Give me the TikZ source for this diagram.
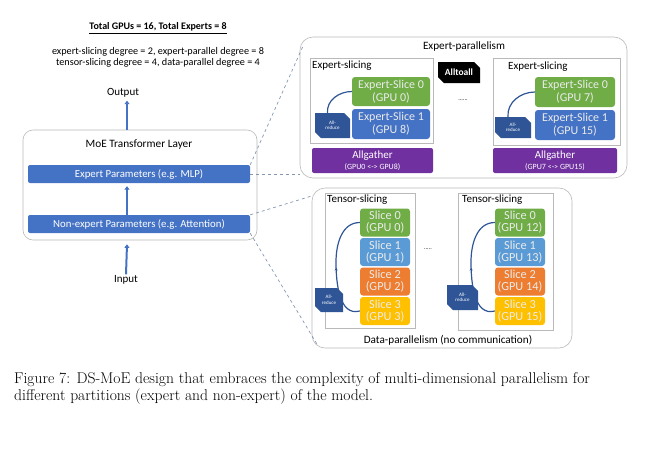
\documentclass[tikz,border=0pt]{standalone}
\usepackage{fontspec}
\newfontfamily\cf{Carlito}
\usetikzlibrary{shapes.misc,arrows.meta,calc,decorations.markings}
\definecolor{barblue}{HTML}{4472C4}
\definecolor{esgreen}{HTML}{70AD47}
\definecolor{sblue}{HTML}{5B9BD5}
\definecolor{sorange}{HTML}{ED7D31}
\definecolor{syellow}{HTML}{FFC000}
\definecolor{agpurple}{HTML}{7030A0}
\definecolor{arblue}{HTML}{2F5597}
\definecolor{dashc}{HTML}{8497B0}
\begin{document}
\begin{tikzpicture}[x=1pt,y=-1pt,
  txt/.style={font=\cf\fontsize{11}{12}\selectfont, inner sep=0pt},
  outer/.style={draw=gray!55, line width=0.6pt, rounded corners=13pt, inner sep=0pt},
  frame/.style={draw=gray!55, line width=0.5pt, inner sep=0pt},
  bar/.style={fill=barblue, rounded corners=2pt, text=white, inner sep=0pt,
    font=\cf\fontsize{10.8}{12}\selectfont, minimum width=222pt, minimum height=18pt},
  esbox/.style={rounded corners=3pt, text=white!92!black, inner sep=0pt, align=center,
    font=\cf\fontsize{12}{13}\selectfont},
  slicebox/.style={esbox, font=\cf\fontsize{12.3}{12}\selectfont, minimum width=50pt, minimum height=28pt},
  arbox/.style={chamfered rectangle, chamfered rectangle corners={north east,south west},
    chamfered rectangle xsep=3pt, fill=arblue, text=white, inner sep=0pt, align=center,
    font=\cf\fontsize{5}{5.5}\selectfont},
  agbox/.style={fill=agpurple, rounded corners=2pt, text=white, inner sep=0pt, align=center,
    minimum width=122pt, minimum height=25pt},
  uparrow/.style={draw=barblue, line width=2pt, -{Triangle[width=5pt,length=3.5pt]}},
  dashline/.style={draw=dashc, dashed, line width=0.7pt},
  curve/.style={draw=arblue, line width=1.2pt},
  midarrow/.style={postaction={decorate}, decoration={markings,
    mark=at position 0.5 with {\arrow{Stealth[length=3pt,width=3pt]}}}}
]
\useasboundingbox (0,0) rectangle (655,451);

% left texts
\node[txt, font=\cf\bfseries\fontsize{10}{11}\selectfont] (title) at (158,28) {\underline{Total GPUs = 16, Total Experts = 8}};
\node[txt, font=\cf\fontsize{10.2}{11}\selectfont] (deg1) at (158,52) {expert-slicing degree = 2, expert-parallel degree = 8};
\node[txt, font=\cf\fontsize{10.2}{11}\selectfont] (deg2) at (158,63) {tensor-slicing degree = 4, data-parallel degree = 4};
\node[txt] (out) at (123,93) {Output};
\node[txt] (inp) at (126,280) {Input};

% MoE layer
\node[outer, rounded corners=10pt, minimum width=234pt, minimum height=110pt] (moe) at (140,185) {};
\node[txt, font=\cf\fontsize{11.3}{12}\selectfont] (moet) at (139,145) {MoE Transformer Layer};
\node[bar] (exp) at (139,174) {Expert Parameters (e.g. MLP)};
\node[bar] (nonexp) at (139,224) {Non-expert Parameters (e.g. Attention)};
\coordinate (ux) at (127,0);
\draw[uparrow] (ux |- moe.north) -- ([yshift=-3pt]ux |- out.south);
\draw[uparrow] (ux |- nonexp.north) -- ([yshift=-3pt]ux |- exp.south);
\draw[uparrow] ([yshift=1pt]inp.north) -- ([yshift=-4pt]ux |- moe.south);

% Expert parallelism
\node[outer, minimum width=327pt, minimum height=141pt] (ep) at (463.5,107.5) {};
\node[txt, font=\cf\fontsize{11.2}{12}\selectfont] (ept) at (464,47) {Expert-parallelism};
\node[frame, minimum width=123pt, minimum height=85pt] (esl) at (371.5,100.5) {};
\node[txt, anchor=west] (eslt) at (312,66) {Expert-slicing};
\node[esbox, fill=esgreen, minimum width=78pt, minimum height=29pt] (es0l) at (391,91.5) {Expert-Slice 0\\(GPU 0)};
\node[esbox, fill=barblue, minimum width=78pt, minimum height=30pt] (es1l) at (391,124) {Expert-Slice 1\\(GPU 8)};
\node[arbox, minimum width=35pt, minimum height=25pt] (arl) at (332.5,125.5) {All-\\reduce};
\draw[curve] ([xshift=-5pt]arl.north) to[out=95,in=180] (es0l.west);
\node[agbox, minimum width=121pt] (agl) at (372.5,160.5) {{\cf\fontsize{11}{11}\selectfont Allgather}\\[-1pt]{\cf\fontsize{8}{8}\selectfont (GPU0 <-> GPU8)}};

\node[chamfered rectangle, chamfered rectangle corners={north east,south west}, chamfered rectangle xsep=3pt,
  fill=black, text=white, inner sep=0pt, minimum width=42pt, minimum height=21pt,
  font=\cf\bfseries\fontsize{9.5}{10}\selectfont] (a2a) at (459,72.5) {Alltoall};
\node[txt, font=\cf\fontsize{6}{7}\selectfont] (dots1) at (463,100) {......};

\node[frame, minimum width=127pt, minimum height=87pt] (esr) at (556.5,101.5) {};
\node[txt, anchor=west] (esrt) at (508,67) {Expert-slicing};
\node[esbox, fill=esgreen, minimum width=80pt, minimum height=30pt] (es0r) at (575,92) {Expert-Slice 0\\(GPU 7)};
\node[esbox, fill=barblue, minimum width=80pt, minimum height=30pt] (es1r) at (575,125) {Expert-Slice 1\\(GPU 15)};
\node[arbox, minimum width=36pt, minimum height=21pt] (arr) at (513,127.5) {All-\\reduce};
\draw[curve] ([xshift=-5pt]arr.north) to[out=95,in=180] (es0r.west);
\node[agbox, minimum width=124pt] (agr) at (555,160.5) {{\cf\fontsize{11}{11}\selectfont Allgather}\\[-1pt]{\cf\fontsize{8}{8}\selectfont (GPU7 <-> GPU15)}};

% Data parallelism
\node[outer, minimum width=260pt, minimum height=160pt] (dp) at (442,268) {};
\node[txt, font=\cf\fontsize{11.2}{12}\selectfont] (dpt) at (448,340) {Data-parallelism (no communication)};

\node[frame, minimum width=90pt, minimum height=135pt] (tsl) at (370,260.5) {};
\node[txt, anchor=west] (tslt) at (327,200) {Tensor-slicing};
\node[slicebox, fill=esgreen] (s0l) at (385,222.5) {Slice 0\\(GPU 0)};
\node[slicebox, fill=sblue] (s1l) at (385,252) {Slice 1\\(GPU 1)};
\node[slicebox, fill=sorange] (s2l) at (385,281.5) {Slice 2\\(GPU 2)};
\node[slicebox, fill=syellow] (s3l) at (385,311) {Slice 3\\(GPU 3)};
\coordinate (ml) at (336,262);
\draw[curve, midarrow] (s3l.west) to[out=195,in=-90] (ml) to[out=90,in=180] (s0l.west);
\node[arbox, minimum width=28pt, minimum height=24pt] (arl2) at (329,300) {All-\\reduce};
\node[txt, font=\cf\fontsize{6}{7}\selectfont] (dots2) at (428,249) {.....};

\node[frame, minimum width=95pt, minimum height=137pt] (tsr) at (505.5,261.5) {};
\node[txt, anchor=west] (tsrt) at (462,200) {Tensor-slicing};
\node[slicebox, fill=esgreen] (s0r) at (520,222.5) {Slice 0\\(GPU 12)};
\node[slicebox, fill=sblue] (s1r) at (520,252) {Slice 1\\(GPU 13)};
\node[slicebox, fill=sorange] (s2r) at (520,281.5) {Slice 2\\(GPU 14)};
\node[slicebox, fill=syellow] (s3r) at (520,311) {Slice 3\\(GPU 15)};
\coordinate (mr) at (471,262);
\draw[curve, midarrow] (s3r.west) to[out=195,in=-90] (mr) to[out=90,in=180] (s0r.west);
\node[arbox, minimum width=31pt, minimum height=25pt] (arr2) at (462.5,297.5) {All-\\reduce};

% dashed connectors
\draw[dashline] (exp.north east) -- ($(ep.north west)+(3,10)$);
\draw[dashline] (exp.east) -- (exp.east -| ep.west);
\draw[dashline] (nonexp.north east) -- ($(dp.north west)+(1,8)$);
\draw[dashline] (nonexp.south east) -- ($(dp.south west)+(6,-3)$);

% caption
\node[anchor=west, inner sep=0pt, font=\fontsize{15.6}{17}\selectfont] (cap1) at (14,380) {Figure 7: DS-MoE design that embraces the complexity of multi-dimensional parallelism for};
\node[anchor=west, inner sep=0pt, font=\fontsize{15.6}{17}\selectfont] (cap2) at (14,397) {different partitions (expert and non-expert) of the model.};
\end{tikzpicture}
\end{document}
